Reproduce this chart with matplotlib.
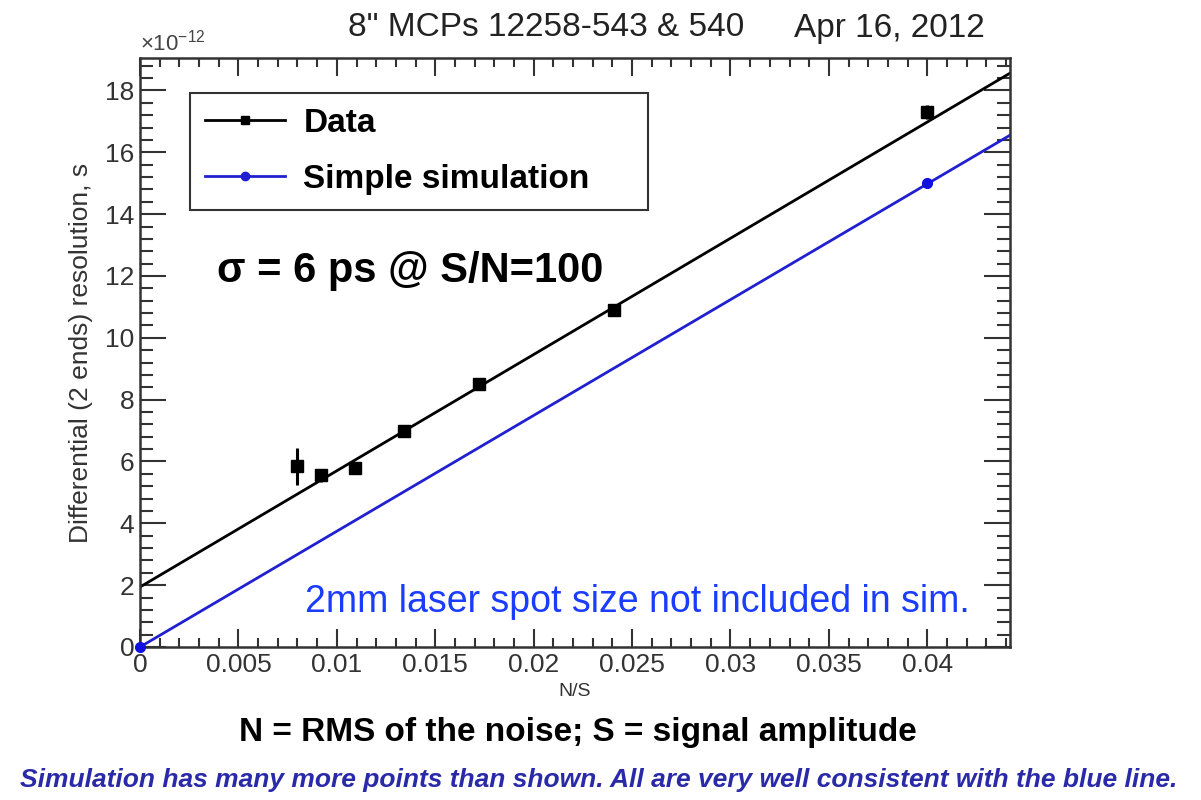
import matplotlib.pyplot as plt
import numpy as np
from matplotlib.lines import Line2D
from matplotlib.ticker import MultipleLocator, FuncFormatter

plt.rcParams['font.family'] = ['Liberation Sans', 'DejaVu Sans']
plt.rcParams['mathtext.default'] = 'regular'

# dane (rozdzielczosc w jednostkach 1e-12 s)
data_ns = [0.0080, 0.0092, 0.0109, 0.0134, 0.0172, 0.0241, 0.0400]
data_res = [5.85, 5.55, 5.80, 6.98, 8.50, 10.90, 17.30]
data_err = [0.60, 0.22, 0.18, 0.18, 0.18, 0.18, 0.22]

sim_ns = [0.0, 0.0400]
sim_res = [0.0, 15.0]

# proste dopasowania
fit_data = (1.94, 376.0)   # wyraz wolny, nachylenie
fit_sim = (0.0, 374.5)

x_max = 0.0442
y_max = 19.05

fig = plt.figure(figsize=(12.01, 8.0), dpi=100)
ax = fig.add_axes([140 / 1201, 1 - 647 / 800, 870 / 1201, 589 / 800])

xx = np.array([0.0, x_max])
ax.plot(xx, fit_data[0] + fit_data[1] * xx, color='black', lw=2, zorder=2)
ax.plot(xx, fit_sim[0] + fit_sim[1] * xx, color='#2020d0', lw=2, zorder=2)

ax.errorbar(data_ns, data_res, yerr=data_err, fmt='s', color='black',
            ms=8, elinewidth=2.2, capsize=0, zorder=4)
ax.plot(sim_ns, sim_res, 'o', color='#1010e0', ms=7, zorder=4, clip_on=False)

ax.set_xlim(0, x_max)
ax.set_ylim(0, y_max)

ax.xaxis.set_major_locator(MultipleLocator(0.005))
ax.xaxis.set_minor_locator(MultipleLocator(0.001))
ax.yaxis.set_major_locator(MultipleLocator(2))
ax.yaxis.set_minor_locator(MultipleLocator(0.4))
ax.xaxis.set_major_formatter(FuncFormatter(lambda v, p: '%g' % round(v, 4)))
ax.yaxis.set_major_formatter(FuncFormatter(lambda v, p: '%d' % round(v)))

ax.tick_params(which='both', direction='in', top=True, right=True,
               width=1.5, colors='#333333', labelsize=19)
ax.tick_params(axis='x', which='major', length=12.7, pad=4)
ax.tick_params(axis='x', which='minor', length=6.4)
ax.tick_params(axis='y', which='major', length=18.8, pad=4)
ax.tick_params(axis='y', which='minor', length=9.4)
ax.tick_params(axis='both', labelcolor='#333333')
for s in ax.spines.values():
    s.set_linewidth(1.8)
    s.set_color('#333333')

ax.set_xlabel('N/S', fontsize=14, color='#333333', labelpad=5)
ax.set_ylabel('Differential (2 ends) resolution, s', fontsize=19,
              color='#333333', labelpad=9)

ax.text(0.0, 1.005, r'$\times$10$^{-12}$', transform=ax.transAxes,
        fontsize=16, color='#444444', ha='left', va='bottom')

handles = [Line2D([], [], color='black', lw=2, marker='s', ms=6),
           Line2D([], [], color='#2020d0', lw=2, marker='o', ms=6)]
leg = ax.legend(handles, ['Data', 'Simple simulation'], loc='upper left',
                bbox_to_anchor=(0.0575, 0.7488, 0.5264, 0.192), mode='expand',
                borderaxespad=0, fancybox=False, framealpha=1,
                edgecolor='#333333', handlelength=2.4, handletextpad=0.55,
                prop={'weight': 'bold', 'size': 24}, labelspacing=0.75,
                borderpad=0.45)
leg.get_frame().set_linewidth(1.5)

ax.text(0.0039, 12.15, 'σ = 6 ps @ S/N=100', fontsize=30, fontweight='bold',
        color='black', ha='left', va='center')
ax.text(0.0084, 1.45, '2mm laser spot size not included in sim.', fontsize=27,
        color='#1a3cff', ha='left', va='center')

fig.text(348 / 1201, 1 - 28 / 800, '8" MCPs 12258-543 & 540',
         fontsize=24, color='#222222', ha='left', va='center')
fig.text(985 / 1201, 1 - 28 / 800, 'Apr 16, 2012',
         fontsize=24, color='#222222', ha='right', va='center')
fig.text(578 / 1201, 1 - 732 / 800, 'N = RMS of the noise; S = signal amplitude',
         fontsize=24, fontweight='bold', color='black', ha='center', va='center')
fig.text(599 / 1201, 1 - 780 / 800,
         'Simulation has many more points than shown. All are very well consistent with the blue line.',
         fontsize=19, fontweight='bold', style='italic', color='#2a2aa8',
         ha='center', va='center')

fig.savefig('out.png', dpi=100)
